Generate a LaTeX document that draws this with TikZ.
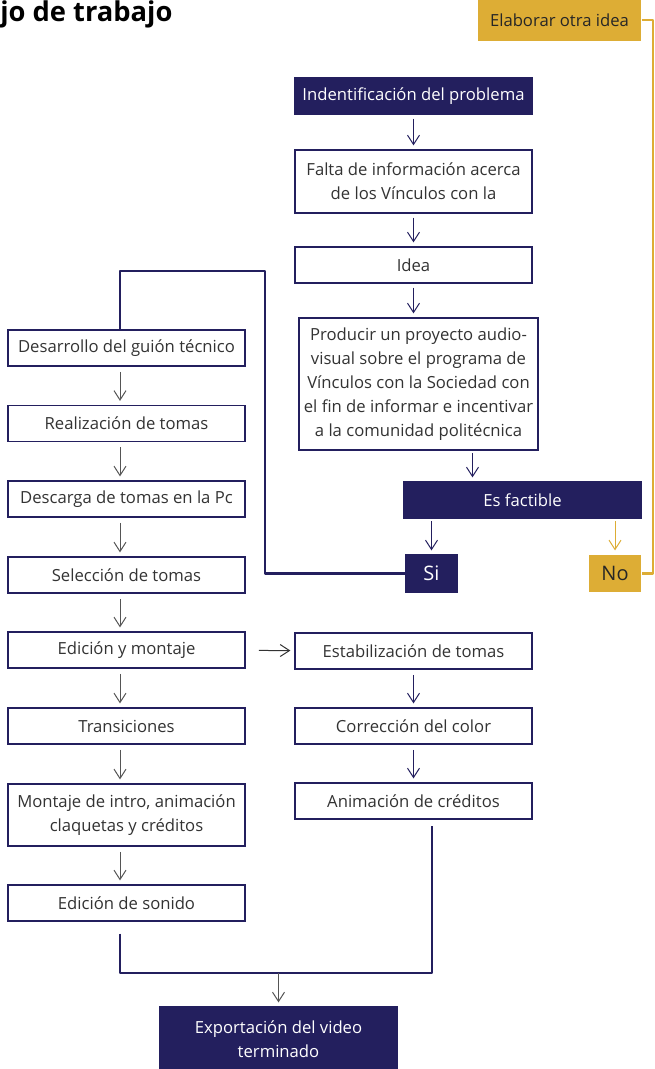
\documentclass[tikz,border=0pt]{standalone}
\usepackage{fontspec}
\setmainfont{Open Sans}
\usetikzlibrary{arrows.meta}

\definecolor{azul}{HTML}{231F5E}
\definecolor{oro}{HTML}{DDAD35}
\definecolor{gris}{HTML}{555555}
\definecolor{letra}{HTML}{333333}

\tikzset{
    caja/.style={draw=azul,line width=0.9pt,fill=white,text=letra,align=center,
        minimum width=177.75pt,minimum height=27pt,inner sep=0pt,
        font=\fontsize{12.5}{18}\selectfont},
    oscura/.style={caja,fill=azul,text=white},
    dorada/.style={caja,draw=none,fill=oro,text=black!85},
    grande/.style={font=\fontsize{15}{18}\selectfont},
    flecha/.style={line width=0.75pt,-{Straight Barb[length=7pt,width=9pt]},shorten >=3pt},
    grueso/.style={draw=azul,line width=1.9pt,line join=round}
}

\begin{document}
\begin{tikzpicture}[x=0.75pt,y=-0.75pt]
    \useasboundingbox (0,0) rectangle (655,1069);
    \clip (0,0) rectangle (655,1069);

    %titulo
    \node[anchor=base west,inner sep=0pt,font=\fontsize{20.5}{24}\selectfont\bfseries] (titulo) at (0,22) {jo de trabajo};

    %columna de arriba
    \node[dorada,minimum width=122.25pt,minimum height=31pt] (elaborar) at (559.5,20) {Elaborar otra idea};
    \node[oscura] (ident) at (413.5,96) {Indentificación del problema};
    \node[caja,minimum height=47.25pt] (falta) at (413.5,181.5) {Falta de información acerca\\de los Vínculos con la};
    \node[caja] (idea) at (413.5,265) {Idea};
    \node[caja,minimum width=179.25pt,minimum height=99pt] (producir) at (418.5,384)
        {Producir un proyecto audio-\\visual sobre el programa de\\Vínculos con la Sociedad con\\el fin de informar e incentivar\\a la comunidad politécnica};
    \node[oscura] (factible) at (522.5,500) {Es factible};
    \node[oscura,grande,minimum width=38.25pt,minimum height=27.75pt] (si) at (431.5,573.5) {Si};
    \node[dorada,grande,minimum width=39pt,minimum height=27.75pt] (no) at (615,573.5) {No};

    %columna izquierda
    \node[caja] (desarrollo) at (126.5,348) {Desarrollo del guión técnico};
    \node[caja] (realizacion) at (126.5,423.5) {Realización de tomas};
    \node[caja] (descarga) at (126.5,499) {Descarga de tomas en la Pc};
    \node[caja] (seleccion) at (126.5,575) {Selección de tomas};
    \node[caja] (edicion) at (126.5,650) {Edición y montaje};
    \node[caja] (transiciones) at (126.5,726) {Transiciones};
    \node[caja,minimum height=46.5pt] (montaje) at (126.5,815) {Montaje de intro, animación\\claquetas y créditos};
    \node[caja] (sonido) at (126.5,903) {Edición de sonido};

    %columna derecha
    \node[caja] (estab) at (413.5,651) {Estabilización de tomas};
    \node[caja] (color) at (413.5,726) {Corrección del color};
    \node[caja] (animacion) at (413.5,801) {Animación de créditos};

    \node[oscura,minimum height=48pt] (export) at (278.5,1039) {Exportación del video\\terminado};

    \coordinate (c1) at (265,271);
    \coordinate (c2) at (120,271);
    \coordinate (b1) at (120,973);
    \coordinate (b2) at (432,973);
    \coordinate (y1) at (653,0);

    %flechas
    \draw[flecha,azul,shorten <=3pt] (ident) -- (falta);
    \draw[flecha,azul,shorten <=3pt] (falta) -- (idea);
    \draw[flecha,azul,shorten <=3pt] (idea) -- (producir.north -| idea);
    \draw[flecha,azul,shorten <=2pt] ([xshift=40.5pt]producir.south) -- ([xshift=40.5pt]producir.south |- factible.north);
    \draw[flecha,azul,shorten <=2pt] (si.north |- factible.south) -- (si.north);
    \draw[flecha,oro,shorten <=2pt] (no.north |- factible.south) -- (no.north);

    \foreach \a/\b in {desarrollo/realizacion,realizacion/descarga,descarga/seleccion,
        seleccion/edicion,edicion/transiciones,transiciones/montaje,montaje/sonido}
        \draw[flecha,gris,shorten <=4pt] (\a.south -| c2) -- (\b.north -| c2);

    \draw[flecha,black!80,shorten <=10pt] (edicion) -- (estab);
    \draw[flecha,azul,shorten <=4pt] (estab) -- (color);
    \draw[flecha,azul,shorten <=4pt] (color) -- (animacion);

    %conectores
    \draw[grueso] (si.west) -| (c1) -- (c2) -- (c2 |- desarrollo.north);
    \draw[grueso,shorten <=9pt,shorten >=5pt] (b1 |- sonido.south) -- (b1) -- (b2) -- (b2 |- animacion.south);
    \draw[flecha,gris] (export.north |- b1) -- (export.north);
    \draw[oro,line width=1.6pt,line join=round] (elaborar.east) -- (elaborar.east -| y1) -- (y1 |- no.east) -- (no.east);
\end{tikzpicture}
\end{document}
